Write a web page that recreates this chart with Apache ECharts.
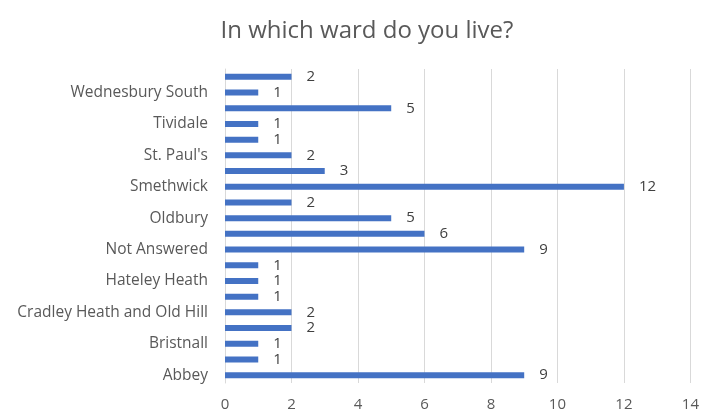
<!DOCTYPE html>
<html><head><meta charset="utf-8">
<script src="https://cdn.jsdelivr.net/npm/echarts@6/dist/echarts.min.js"></script>
<style>html,body{margin:0;padding:0;background:#fff}#c{width:702px;height:412px}</style>
</head><body><div id="c"></div>
<script>
const titleText = 'In which ward do you live?';
const categories = ['Abbey','Blackheath','Bristnall','Charlemont with Grove Vale','Cradley Heath and Old Hill','Great Bridge','Hateley Heath','Langley','Not Answered','Old Warley','Oldbury','Rowley',"Smethwick","Soho and Victoria","St. Paul's",'Tipton Green','Tividale','Wednesbury North','Wednesbury South','West Bromwich Central'];
const values = [9,1,1,2,2,1,1,1,9,6,5,2,12,3,2,1,1,5,1,2];
const xTicks = [0,2,4,6,8,10,12,14];

const chart = echarts.init(document.getElementById('c'));
const font = 'Open Sans';
chart.setOption({
  animation:false,
  title:{text:titleText,left:362,top:14,textAlign:'center',textStyle:{fontFamily:font,fontSize:24,fontWeight:'normal',color:'#595959'}},
  grid:{left:225,right:7,top:69,bottom:28,containLabel:false},
  xAxis:{type:'value',min:xTicks[0],max:xTicks[xTicks.length-1],interval:2,
    axisLine:{show:false},axisTick:{show:false},
    splitLine:{lineStyle:{color:'#d9d9d9'}},
    axisLabel:{fontFamily:font,fontSize:15,color:'#595959',margin:14}},
  yAxis:{type:'category',data:categories,
    axisLine:{show:true,lineStyle:{color:'#d9d9d9'}},axisTick:{show:false},
    axisLabel:{interval:1,fontFamily:font,fontSize:15.5,color:'#595959',margin:17}},
  series:[{type:'bar',data:values,barWidth:6,itemStyle:{color:'#4472C4'},
    label:{show:true,position:'right',distance:15,fontFamily:font,fontSize:15,color:'#404040'}}]
});
</script></body></html>
